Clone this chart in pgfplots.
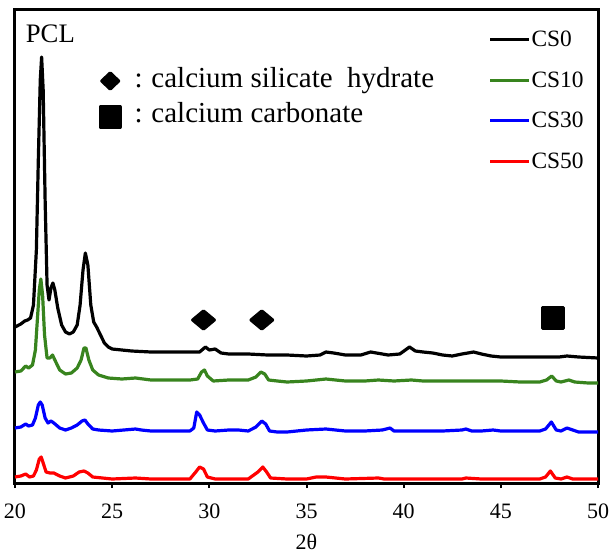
\documentclass[border=0pt]{standalone}
\usepackage{fontspec}
\setmainfont{Liberation Serif}
\usepackage{pgfplots}
\pgfplotsset{compat=1.18}
\definecolor{cgreen}{RGB}{56,132,30}
\definecolor{cblue}{RGB}{0,0,255}
\definecolor{cred}{RGB}{255,0,0}
\begin{document}
\begin{tikzpicture}
\begin{axis}[
 scale only axis, width=583pt, height=473pt,
 xmin=20, xmax=50, ymin=10, ymax=483, y dir=reverse,
 xtick={20,25,...,50}, ytick=\empty,
 tick align=outside, major tick length=5pt,
 xtick pos=bottom,
 axis line style={line width=3pt},
 tick style={line width=2pt, black},
 every tick label/.append style={font=\fontsize{22}{26}\selectfont},
 xticklabel style={yshift=-12pt},
 /pgf/number format/assume math mode=true,
 xlabel={2θ}, xlabel style={font=\fontsize{22}{26}\selectfont, yshift=-9pt},
 clip=false,
 legend style={draw=none, fill=none, at={(axis cs:44.35,30)}, anchor=north west,
   font=\fontsize{23.4}{28}\selectfont, row sep=21.5pt, inner sep=0pt,
   nodes={inner sep=1pt}},
 legend cell align=left,
 legend image code/.code={\draw[#1, line width=3.2pt] (0pt,0pt) -- (39pt,0pt);},
 every axis plot/.append style={line width=3.2pt, line join=round},
]
\addplot[black] coordinates {
(20.0,327)(20.3,324)(20.5,321)(20.65,320)(20.8,318)(20.95,305)(21.1,250)(21.2,160)(21.3,80)(21.37,57)(21.45,90)(21.55,200)(21.65,285)(21.75,300)(21.85,288)(21.95,283)(22.05,290)(22.2,308)(22.4,325)(22.6,332)(22.8,334)(23.0,332)(23.2,325)(23.35,305)(23.5,270)(23.62,253)(23.75,265)(23.9,305)(24.05,322)(24.2,327)(24.4,335)(24.6,343)(24.8,347)(25.0,349)(25.5,350)(26,351)(27,352)(28,352)(29,352)(29.5,352)(29.8,347)(30.0,350)(30.3,349)(30.6,353)(31,354)(32,354)(33,355)(34,355)(35,356)(35.7,355)(36.0,352)(36.4,353)(37,355)(37.8,355)(38.3,352)(38.6,353)(39.2,355)(39.8,354)(40.3,347)(40.6,351)(41.0,352)(41.5,353)(42,355)(42.5,356)(43,354)(43.6,352)(44,354)(44.5,356)(45,357)(46,357)(47,357)(48,357)(48.4,356)(49,357)(50,358)
};
\addlegendentry{CS0}
\addplot[cgreen] coordinates {
(20.0,372)(20.3,371)(20.55,366)(20.7,368)(20.9,365)(21.05,350)(21.15,320)(21.25,290)(21.33,279)(21.42,295)(21.52,335)(21.65,358)(21.8,358)(21.93,355)(22.1,362)(22.3,370)(22.6,374)(22.9,373)(23.2,368)(23.4,360)(23.55,348)(23.65,348)(23.8,360)(24.0,370)(24.3,375)(24.8,378)(25.5,379)(26.2,378)(27,380)(28,380)(29,380)(29.4,379)(29.6,372)(29.75,370)(29.9,376)(30.2,381)(31,380)(32,380)(32.4,377)(32.65,372)(32.85,374)(33.05,380)(33.5,381)(34,382)(35,381)(36,379)(36.5,380)(37,381)(38,381)(38.7,380)(39.5,381)(40.4,380)(41,381)(42,381)(43,381)(44,381)(45,381)(46,382)(47,382)(47.35,380)(47.62,376)(47.85,381)(48.1,382)(48.5,380)(48.8,382)(49.5,383)(50,383)
};
\addlegendentry{CS10}
\addplot[cblue] coordinates {
(20.0,428)(20.3,427)(20.55,424)(20.7,426)(20.9,425)(21.05,418)(21.2,405)(21.3,402)(21.4,405)(21.55,418)(21.7,423)(21.85,421)(22.0,423)(22.3,428)(22.6,430)(22.9,428)(23.2,425)(23.45,421)(23.6,420)(23.75,424)(24.0,429)(24.3,430)(25,431)(26.2,429)(26.5,430)(27,431)(28,431)(29,431)(29.2,428)(29.35,412)(29.5,415)(29.7,423)(29.9,430)(30.3,431)(31,430)(31.5,430)(32,431)(32.4,427)(32.7,421)(32.9,424)(33.1,431)(33.5,432)(34,432)(35,430)(36,429)(36.5,430)(37,431)(38,431)(38.9,430)(39.3,428)(39.5,431)(40,431)(41,431)(42,431)(43,430)(43.2,429)(43.5,431)(44,431)(44.6,430)(45,431)(46,431)(47,431)(47.3,429)(47.6,422)(47.85,430)(48.1,431)(48.4,428)(48.7,430)(49,432)(50,432)
};
\addlegendentry{CS30}
\addplot[cred] coordinates {
(20.0,477)(20.3,476)(20.55,474)(20.75,477)(20.95,476)(21.1,470)(21.25,459)(21.35,457)(21.45,463)(21.6,472)(21.8,473)(22.0,473)(22.3,476)(22.6,478)(23.0,476)(23.3,472)(23.55,471)(23.75,473)(24.0,477)(24.5,478)(25,479)(26.2,478)(27,479)(28,479)(29,479)(29.3,472)(29.5,467)(29.7,469)(29.9,477)(30.3,479)(31,479)(32,479)(32.5,472)(32.75,467)(32.95,472)(33.15,478)(34,479)(35,479)(35.5,477)(36,477)(36.5,478)(37,479)(38.7,478)(39,479)(40,479)(41,479)(43,479)(43.2,478)(44,479)(46,479)(47,479)(47.3,477)(47.55,471)(47.8,478)(48.1,479)(48.4,477)(48.7,479)(50,479)
};
\addlegendentry{CS50}
\addplot[only marks, mark=diamond*, mark size=9pt, mark options={xscale=1.6, black}, forget plot] coordinates {(29.7,320)(32.7,320)};
\addplot[only marks, mark=square*, mark size=10.5pt, mark options={black}, forget plot] coordinates {(47.7,318)};
\addplot[only marks, mark=diamond*, mark size=8pt, mark options={xscale=1.4, black}, forget plot] coordinates {(24.9,81)};
\addplot[only marks, mark=square*, mark size=10pt, mark options={black}, forget plot] coordinates {(24.9,117)};
\node[anchor=base west, inner sep=0pt, font=\fontsize{26.7}{32}\selectfont] at (axis cs:20.55,43) {PCL};
\node[anchor=base west, inner sep=0pt, font=\fontsize{29}{34}\selectfont] at (axis cs:26.15,88) {:\hspace{0.3em}calcium silicate\hspace{0.5em}hydrate};
\node[anchor=base west, inner sep=0pt, font=\fontsize{29}{34}\selectfont] at (axis cs:26.15,123) {:\hspace{0.3em}calcium carbonate};
\coordinate (bl) at (axis cs:20,483);
\coordinate (tr) at (axis cs:50,10);
\end{axis}
\pgfresetboundingbox
\path[use as bounding box] ([xshift=-15pt,yshift=-70pt]bl) rectangle ([xshift=11pt,yshift=10pt]tr);
\end{tikzpicture}
\end{document}
